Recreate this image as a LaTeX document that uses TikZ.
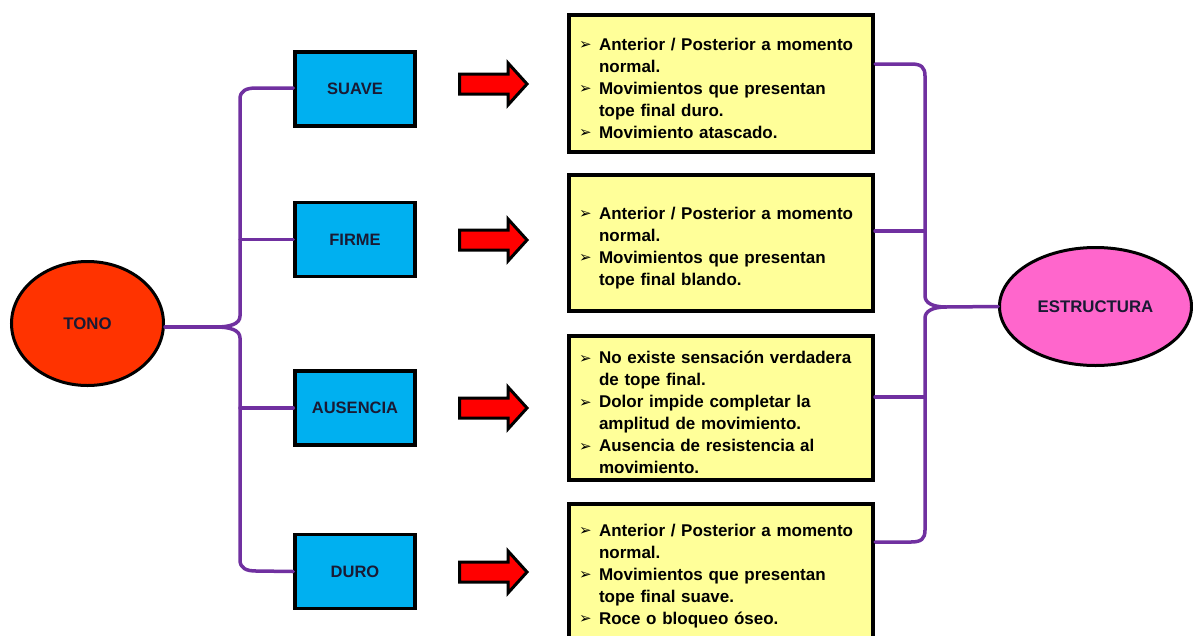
\documentclass[tikz,border=0pt]{standalone}
\usepackage{fontspec}
\setmainfont{Liberation Sans}
\newfontfamily\dejavu{DejaVu Sans}
\usetikzlibrary{shapes.geometric}
\definecolor{brpurple}{HTML}{7030A0}
\definecolor{tonored}{HTML}{FF3300}
\definecolor{estpink}{HTML}{FF66CC}
\definecolor{boxblue}{HTML}{00B0F0}
\definecolor{boxyellow}{HTML}{FFFF99}
\definecolor{darktxt}{HTML}{1A1A33}
\newcommand{\bul}{{\dejavu\fontsize{15}{15}\selectfont ➢}}
\newcommand{\itm}[1]{\par\hangindent=23pt\hangafter=1\noindent\makebox[23pt][l]{\hspace{3pt}\raisebox{0.5pt}{\bul}}#1\par}
\tikzset{
  oval/.style={ellipse, draw=black, line width=3pt, font=\fontsize{16.8}{19}\selectfont\bfseries, text=darktxt},
  bluebox/.style={rectangle, draw=black, line width=3.5pt, fill=boxblue, minimum width=120pt, minimum height=74pt, font=\fontsize{16.5}{19}\selectfont\bfseries, text=darktxt},
  yelbox/.style={rectangle, draw=black, line width=4pt, fill=boxyellow, minimum width=304pt, text width=290pt, inner xsep=7pt, font=\fontsize{17}{22}\selectfont\bfseries\raggedright},
  brace/.style={draw=brpurple, line width=3.5pt, line cap=round, line join=round},
  arrowsty/.style={fill=red, draw=black, line width=3pt, line join=miter}
}
\newcommand{\redarrow}[1]{\draw[arrowsty] (459.5,#1-10) -- (508,#1-10) -- (508,#1-21) -- (527,#1) -- (508,#1+21) -- (508,#1+10) -- (459.5,#1+10) -- cycle;}
\begin{document}
\begin{tikzpicture}[x=1pt,y=-1pt]
\clip (0,0) rectangle (1193,635);
\fill[white] (0,0) rectangle (1193,635);

% ovals
\node[oval, fill=tonored, minimum width=152pt, minimum height=124pt] (tono) at (87.5,323.5) {TONO};
\node[oval, fill=estpink, minimum width=192pt, minimum height=118pt] (est) at (1095.5,306.5) {ESTRUCTURA};

% blue boxes
\node[bluebox] (suave) at (355,89) {SUAVE};
\node[bluebox] (firme) at (355,239.5) {FIRME};
\node[bluebox] (aus) at (355,408) {AUSENCIA};
\node[bluebox] (duro) at (355,571.5) {DURO};

% yellow boxes
\node[yelbox, minimum height=137pt] (y1) at (721,83.5) {%
\itm{Anterior / Posterior a momento\newline normal.}
\itm{Movimientos que presentan\newline tope final duro.}
\itm{Movimiento atascado.}};
\node[yelbox, minimum height=136pt] (y2) at (721,243) {%
\itm{Anterior / Posterior a momento\newline normal.}
\itm{Movimientos que presentan\newline tope final blando.}};
\node[yelbox, minimum height=144pt] (y3) at (721,408) {%
\itm{No existe sensación verdadera\newline de tope final.}
\itm{Dolor impide completar la\newline amplitud de movimiento.}
\itm{Ausencia de resistencia al\newline movimiento.}};
\node[yelbox, minimum height=134pt] (y4) at (721,571) {%
\itm{Anterior / Posterior a momento\newline normal.}
\itm{Movimientos que presentan\newline tope final suave.}
\itm{Roce o bloqueo óseo.}};

% red arrows
\redarrow{84}
\redarrow{240}
\redarrow{408}
\redarrow{572}

% left brace
\coordinate (lb) at (240,0);
\coordinate (lcusp) at (216,327);
\draw[brace] (lcusp -| tono.east) -- (lcusp);
\draw[brace] (lcusp) .. controls (230,327) and (240,324) .. (240,316) -- (240,99)
  .. controls (240,91) and (246,88) .. (256,88) -- (suave.west |- 0,88);
\draw[brace] (lcusp) .. controls (230,327) and (240,330) .. (240,338) -- (240,560)
  .. controls (240,568) and (246,571) .. (256,571) -- (duro.west);
\draw[brace] (firme.west) -- (firme.west -| lb);
\draw[brace] (aus.west) -- (aus.west -| lb);

% right brace
\coordinate (rb) at (925,0);
\coordinate (rcusp) at (946,307);
\draw[brace] (rcusp) -- (est.west);
\draw[brace] (y1.east |- 0,64) -- (911,64) .. controls (921,64) and (925,67) .. (925,76)
  -- (925,296) .. controls (925,303) and (933,307) .. (rcusp);
\draw[brace] (y4.east |- 0,542) -- (911,542) .. controls (921,542) and (925,539) .. (925,530)
  -- (925,318) .. controls (925,311) and (933,307) .. (rcusp);
\draw[brace] (y2.east |- 0,231) -- (rb |- 0,231);
\draw[brace] (y3.east |- 0,397) -- (rb |- 0,397);
\end{tikzpicture}
\end{document}
